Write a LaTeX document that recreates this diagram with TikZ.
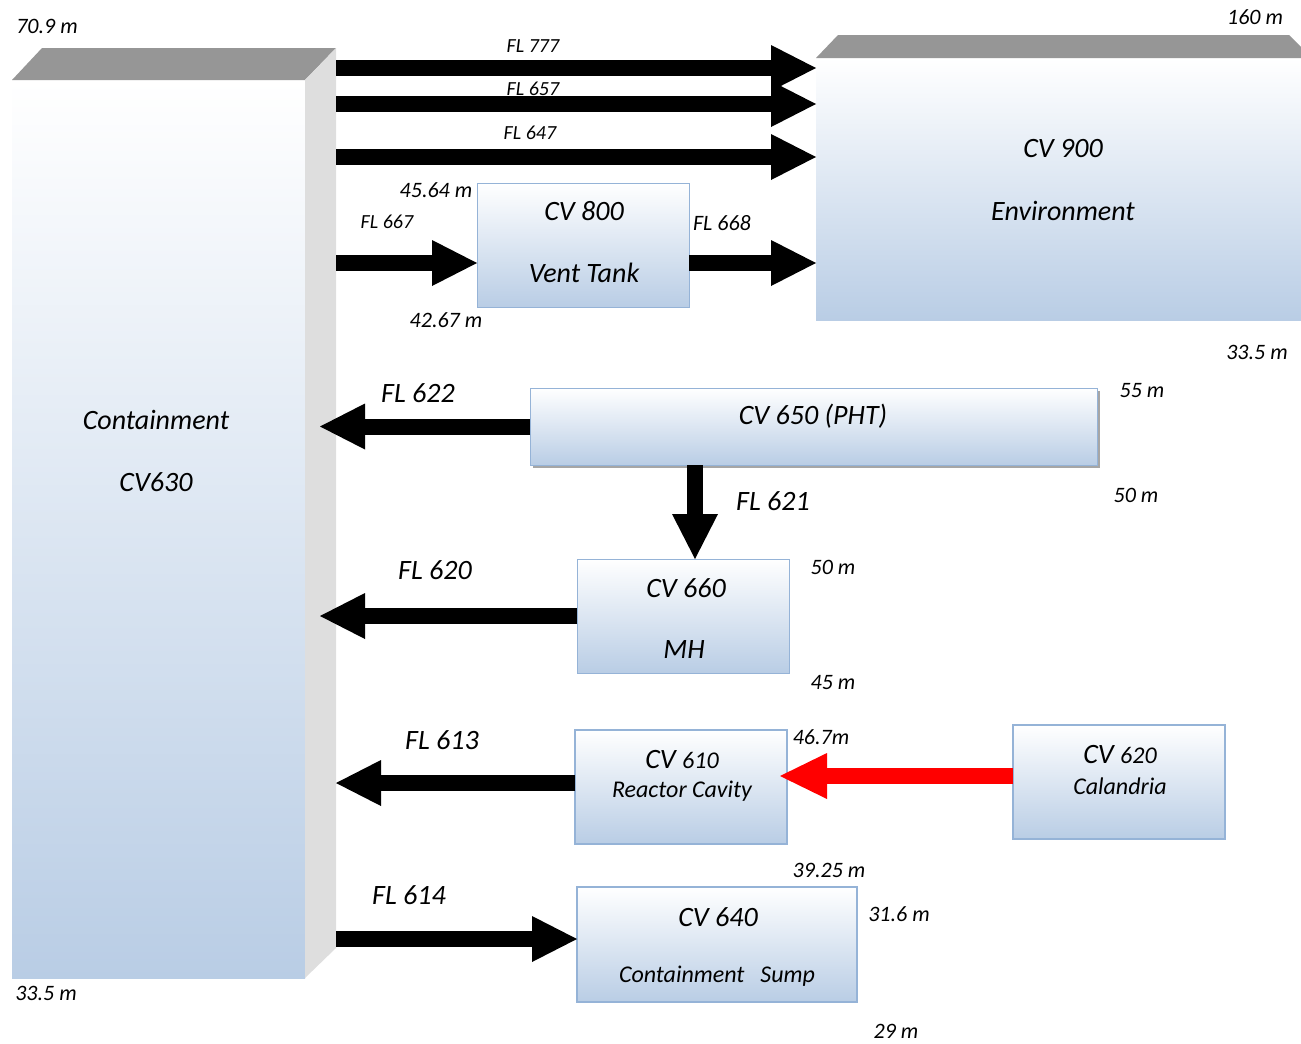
\documentclass[tikz,border=0pt]{standalone}
\usepackage{fontspec}
\setmainfont{Carlito}
\usetikzlibrary{calc,arrows.meta,shadows}
\tikzset {>=Stealth}
\definecolor{cvblue}{HTML}{B9CDE5}
\definecolor{cvline}{HTML}{95B3D7}
\definecolor{roofgray}{HTML}{969696}
\definecolor{wallgray}{HTML}{DEDEDE}
\tikzset{
  cvbox/.style={draw=cvline,line width=1pt,top color=white,
    bottom color=cvblue,inner sep=0pt,outer sep=0pt},
  flow/.style={line width=16pt,
    -{Triangle[length=45pt,width=46pt,line width=0pt]}},
  bigtxt/.style={font=\fontsize{28}{30}\selectfont\itshape},
  boxtxt/.style={font=\fontsize{24}{26}\selectfont\itshape},
  midtxt/.style={font=\fontsize{22}{24}\selectfont\itshape},
  smalltxt/.style={font=\fontsize{20}{22}\selectfont\itshape}
}

\begin{document}
\begin{tikzpicture}[x=1pt,y=-1pt]
\useasboundingbox (0,0) rectangle (1301,1044);
% containment
\node[cvbox,draw=none,minimum width=293pt,minimum height=898pt]
  (cont) at (158.5,529) {};
\fill[roofgray] (cont.north west) -- ++(30,-32) -- ++(294,0)
  -- (cont.north east) -- cycle;
\fill[wallgray] (cont.north east) -- ++(31,-32) -- ++(0,900)
  -- (cont.south east) -- cycle;
\node[bigtxt] (conta) at (156,420) {Containment};
\node[bigtxt] (contb) at (156,482) {CV630};
\coordinate (cside) at (336,0);
\coordinate (cin) at (320,0);
% environment
\node[cvbox,draw=none,minimum width=485pt,minimum height=262pt]
  (cv900) at (1058.5,189) {};
\fill[roofgray] (cv900.north west) -- ++(22,-23) -- (1289,35)
  -- (1301,47) -- (cv900.north east) -- cycle;
\node[bigtxt] (cv900a) at (1063,149) {CV 900};
\node[bigtxt] (cv900b) at (1063,211) {Environment};
% vent tank
\node[cvbox,minimum width=212pt,minimum height=124pt]
  (cv800) at (583,245) {};
\node[bigtxt] (cv800a) at (584,211) {CV 800};
\node[bigtxt] (cv800b) at (584,273) {Vent Tank};
% PHT
\node[cvbox,minimum width=567pt,minimum height=77pt,
  drop shadow={shadow xshift=3pt,shadow yshift=-3pt,
    fill=black!35,opacity=1}]
  (cv650) at (813.5,426.5) {};
\node[bigtxt] (cv650a) at (813,416) {CV 650 (PHT)};
% MH
\node[cvbox,minimum width=212pt,minimum height=114pt]
  (cv660) at (683,616) {};
\node[bigtxt] (cv660a) at (686,588) {CV 660};
\node[bigtxt] (cv660b) at (684,650) {MH};
% reactor cavity and calandria
\node[cvbox,line width=2.5pt,minimum width=212pt,minimum height=114pt]
  (cv610) at (681,787) {};
\node[bigtxt] (cv610a) at (682,760) {CV {\fontsize{24}{26}\selectfont 610}};
\node[boxtxt] (cv610b) at (682,791) {Reactor Cavity};
\node[cvbox,line width=2.5pt,minimum width=212pt,minimum height=114pt]
  (cv620) at (1119,782) {};
\node[bigtxt] (cv620a) at (1120,755) {CV {\fontsize{24}{26}\selectfont 620}};
\node[boxtxt] (cv620b) at (1120,786) {Calandria};
% sump
\node[cvbox,line width=2.5pt,minimum width=280pt,minimum height=115pt]
  (cv640) at (717,944.5) {};
\node[bigtxt] (cv640a) at (718,917) {CV 640};
\node[boxtxt] (cv640b) at (717,976) {Containment\hspace{16pt}Sump};

% flow paths
\draw[flow] (cside |- 0,68) -- (cv900.west |- 0,68);
\draw[flow] (cside |- 0,104) -- (cv900.west |- 0,104);
\draw[flow] (cside |- 0,157) -- (cv900.west |- 0,157);
\draw[flow] (cside |- 0,263) -- (cv800.west |- 0,263);
\draw[flow] (cv800.east |- 0,263) -- (cv900.west |- 0,263);
\draw[flow] (cv650.west) -- (cin |- cv650.west);
\draw[flow] (cv650.south -| 695,0) -- (cv660.north -| 695,0);
\draw[flow] (cv660.west) -- (cin |- cv660.west);
\draw[flow] (cv610.west |- 0,783) -- (cside |- 0,783);
\draw[flow] (cside |- 0,939) -- (cv640.west |- 0,939);
\coordinate (redtip) at (780,776);
\draw[flow,red,-{Triangle[length=47pt,width=46pt,line width=0pt]}]
  (cv620.west |- 0,776) -- (redtip);

% flow labels
\node[smalltxt] (fl777) at (533,46) {FL 777};
\node[smalltxt] (fl657) at (533,89) {FL 657};
\node[smalltxt] (fl647) at (530,133) {FL 647};
\node[smalltxt] (fl667) at (387,222) {FL 667};
\node[midtxt] (fl668) at (722,223) {FL 668};
\node[bigtxt] (fl622) at (418,393) {FL 622};
\node[bigtxt] (fl621) at (773,501) {FL 621};
\node[bigtxt] (fl620) at (435,570) {FL 620};
\node[bigtxt] (fl613) at (442,740) {FL 613};
\node[bigtxt] (fl614) at (409,895) {FL 614};

% elevations
\node[midtxt] (h1) at (47,26) {70.9 m};
\node[midtxt] (h2) at (46,993) {33.5 m};
\node[midtxt] (h3) at (1255,17) {160 m};
\node[midtxt] (h4) at (1257,352) {33.5 m};
\node[midtxt] (h5) at (436,190) {45.64 m};
\node[midtxt] (h6) at (446,320) {42.67 m};
\node[midtxt] (h7) at (1142,391) {55 m};
\node[midtxt] (h8) at (1136,495) {50 m};
\node[midtxt] (h9) at (833,567) {50 m};
\node[midtxt] (h10) at (833,683) {45 m};
\node[midtxt] (h11) at (821,737) {46.7m};
\node[midtxt] (h12) at (829,870) {39.25 m};
\node[midtxt] (h13) at (899,914) {31.6 m};
\node[midtxt] (h14) at (896,1031) {29 m};
\end{tikzpicture}
\end{document}
